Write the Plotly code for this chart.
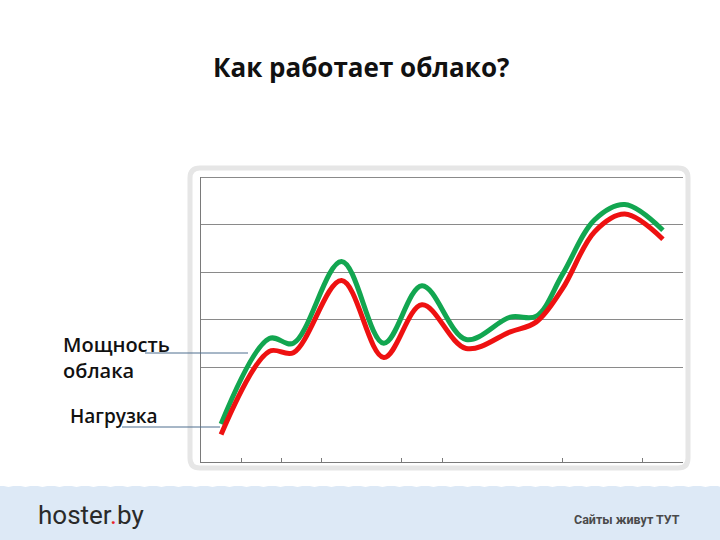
import plotly.graph_objects as go

# ---- data ----
x_pos = [0.5, 1.7, 2.3, 3.5, 4.55, 5.5, 6.6, 7.7, 8.35, 9.0, 9.8, 10.55, 11.5]
capacity = [0.8, 2.6, 2.5, 4.22, 2.5, 3.71, 2.58, 3.05, 3.07, 3.95, 5.1, 5.42, 4.88]
load = [0.58, 2.33, 2.3, 3.82, 2.2, 3.31, 2.39, 2.74, 2.95, 3.65, 4.85, 5.22, 4.69]
x_ticks = [1, 2, 3, 5, 6, 9, 11]
y_grid = [2, 3, 4, 5, 6]

title_text = "Как работает облако?"
label_capacity = "Мощность<br>облака"
label_load = "Нагрузка"
footer_slogan = "Сайты живут ТУТ"

W, H = 720, 540
def px(x):
    return x / W
def py(y):
    return 1 - y / H

fig = go.Figure()
fig.add_trace(go.Scatter(x=x_pos, y=capacity, mode="lines",
                         line=dict(color="#12a650", width=5, shape="spline", smoothing=1.0),
                         showlegend=False, hoverinfo="skip"))
fig.add_trace(go.Scatter(x=x_pos, y=load, mode="lines",
                         line=dict(color="#ee1111", width=5, shape="spline", smoothing=1.0),
                         showlegend=False, hoverinfo="skip"))

shapes = []
# footer band
shapes.append(dict(type="rect", xref="paper", yref="paper", x0=0, x1=1, y0=0, y1=py(486),
                   fillcolor="#dde9f6", line=dict(width=0), layer="below"))
# scalloped top edge of footer
period = 17.0
d = "M 0 %f" % py(484)
xx = 0.0
while xx < W:
    d += " Q %f %f %f %f" % (px(xx + period / 2), py(490), px(xx + period), py(484))
    xx += period
d += " L %f %f L 0 %f Z" % (px(xx), py(480), py(480))
shapes.append(dict(type="path", xref="paper", yref="paper", path=d,
                   fillcolor="white", line=dict(width=0), layer="below"))

# rounded frame around chart
x0, x1, y0, y1, r = 190, 688, 168, 468, 10
path = ("M %f %f L %f %f Q %f %f %f %f L %f %f Q %f %f %f %f L %f %f Q %f %f %f %f L %f %f Q %f %f %f %f Z" % (
    px(x0 + r), py(y0), px(x1 - r), py(y0), px(x1), py(y0), px(x1), py(y0 + r),
    px(x1), py(y1 - r), px(x1), py(y1), px(x1 - r), py(y1),
    px(x0 + r), py(y1), px(x0), py(y1), px(x0), py(y1 - r),
    px(x0), py(y0 + r), px(x0), py(y0), px(x0 + r), py(y0)))
shapes.append(dict(type="path", xref="paper", yref="paper", path=path,
                   line=dict(color="#e6e6e6", width=5), layer="below"))

# top border line of plot area
shapes.append(dict(type="line", xref="paper", yref="paper", x0=px(201), x1=px(683), y0=py(177.5), y1=py(177.5),
                   line=dict(color="#8a8a8a", width=1), layer="below"))

# connector lines from labels
shapes.append(dict(type="line", xref="paper", yref="paper", x0=px(145), x1=px(248), y0=py(353), y1=py(353),
                   line=dict(color="#4f6f8f", width=1)))
shapes.append(dict(type="line", xref="paper", yref="paper", x0=px(122), x1=px(220), y0=py(427), y1=py(427),
                   line=dict(color="#4f6f8f", width=1)))

annotations = [
    dict(text="<b>" + title_text + "</b>", x=px(361), y=py(67), xref="paper", yref="paper",
         showarrow=False, font=dict(family="Open Sans", size=26, color="#111111"),
         xanchor="center", yanchor="middle"),
    dict(text=label_capacity, x=px(61), y=py(357), xref="paper", yref="paper",
         showarrow=False, font=dict(family="Open Sans", size=20, color="#111111", weight=600),
         xanchor="left", yanchor="middle", align="left"),
    dict(text=label_load, x=px(68), y=py(416), xref="paper", yref="paper",
         showarrow=False, font=dict(family="Open Sans", size=19, color="#111111", weight=600),
         xanchor="left", yanchor="middle", align="left"),
    dict(text="hoster<span style='color:#e8242a'>.</span>by",
         x=px(36), y=py(515), xref="paper", yref="paper",
         showarrow=False, font=dict(family="Roboto", size=26, color="#2a2a2a"),
         xanchor="left", yanchor="middle"),
    dict(text="<b>" + footer_slogan + "</b>", x=px(682), y=py(519), xref="paper", yref="paper",
         showarrow=False, font=dict(family="Roboto", size=12.5, color="#4a4a4a"),
         xanchor="right", yanchor="middle"),
]

fig.update_layout(
    width=W, height=H, autosize=False,
    margin=dict(l=0, r=0, t=0, b=0),
    paper_bgcolor="white", plot_bgcolor="white",
    shapes=shapes, annotations=annotations,
    xaxis=dict(domain=[px(201), px(683)], range=[0, 12], showgrid=False, zeroline=False,
               showline=True, linecolor="#7a7a7a", linewidth=1,
               tickvals=x_ticks, ticks="inside", ticklen=4, tickcolor="#7a7a7a",
               showticklabels=False, fixedrange=True),
    yaxis=dict(domain=[py(462), py(177)], range=[0, 6], showgrid=True, gridcolor="#8a8a8a", gridwidth=1,
               zeroline=False, showline=True, linecolor="#7a7a7a", linewidth=1,
               tickvals=y_grid, ticks="", showticklabels=False, fixedrange=True),
)

fig.write_html("out.html", config={"displayModeBar": False},
               post_script="document.body.style.margin='0';document.body.style.overflow='hidden';")
